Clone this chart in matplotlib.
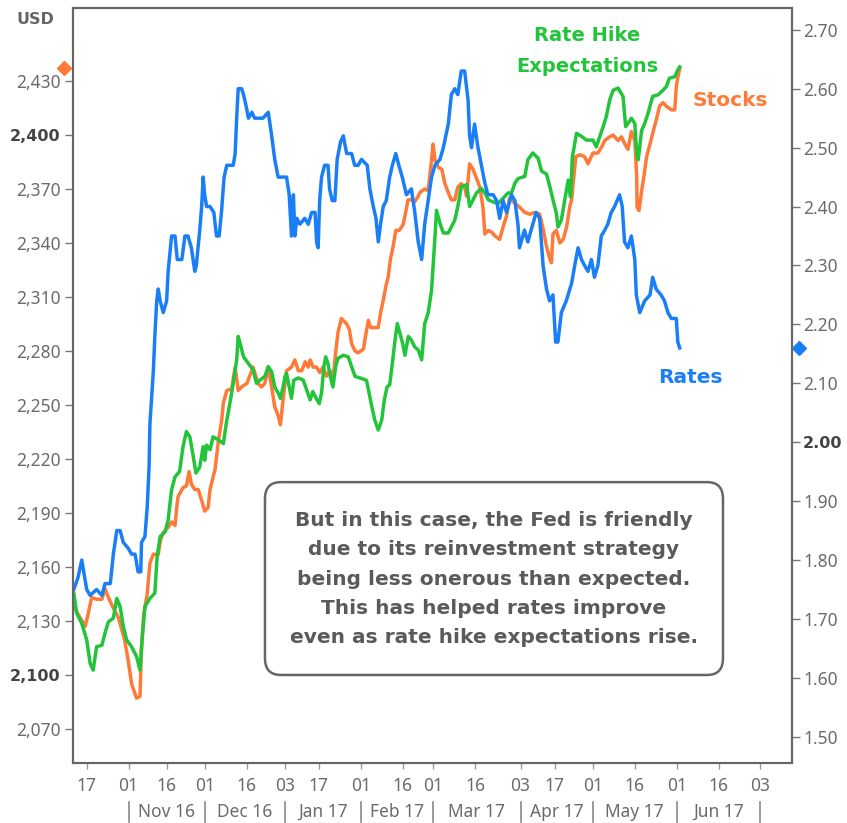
import numpy as np
import matplotlib
matplotlib.use("Agg")
import matplotlib.pyplot as plt
import matplotlib.ticker as mticker
import matplotlib.transforms as mtrans
from matplotlib.patches import FancyBboxPatch

# x = trading day index (bond calendar), 0 = 17 Oct 2016
rates_day = [-3.4, -2.3, -1.3, 0, 0.9, 2.6, 4.0, 4.8, 6.2, 7.0, 7.9, 8.8, 9.6, 10.9, 11.8, 12.7, 13.5, 14.2,
             14.4, 15.3, 15.9, 16.4, 16.6, 17.1, 17.5, 17.9, 18.4, 18.8, 19.3, 20.1, 21.0, 21.4, 22.3, 23.2,
             23.8, 25.0, 25.8, 26.6, 27.5, 28.4, 28.8, 29.7, 30.2, 30.6, 31.0, 31.5, 32.4, 33.4, 34.1, 34.8,
             35.4, 36.1, 36.8, 37.6, 38.5, 39.0, 39.4, 39.8, 40.7, 41.2, 41.9, 42.5, 43.4, 44.1, 45.0, 46.3,
             47.7, 48.6, 49.4, 50.3, 51.6, 52.5, 53.2, 53.8, 54.3, 54.7, 55.2, 56.0, 57.3, 58.2, 59.1, 60.0,
             60.4, 60.8, 61.2, 61.7, 62.5, 63.4, 63.8, 64.5, 65.2, 65.8, 66.7, 67.4, 68.3, 69.6, 70.4, 71.3,
             72.2, 73.7, 74.4, 75.3, 76.0, 76.6, 77.2, 77.9, 78.7, 79.6, 80.3, 81.2, 82.0, 82.9, 84.0, 85.3,
             86.2, 87.1, 88.0, 88.8, 89.7, 90.6, 91.5, 92.8, 93.7, 95.0, 95.8, 96.7, 97.5, 98.4, 99.3, 100.2,
             100.6, 101.1, 101.9, 102.8, 103.7, 104.6, 105.4, 106.8, 107.7, 108.5, 109.4, 110.3, 111.6, 112.5,
             113.3, 113.7, 115.0, 115.9, 117.2, 118.1, 119.0, 119.9, 120.8, 121.6, 122.5, 123.2, 123.8, 124.7,
             126.0, 127.4, 128.5, 129.1, 130.0, 130.8, 131.7, 132.6, 133.4, 134.3, 135.2, 136.1, 136.9, 137.8,
             138.7, 140.0, 140.7, 141.3, 142.2, 143.1, 144.0, 144.4, 145.3, 146.6, 148.0, 148.7, 149.6, 150.9,
             151.8, 152.7, 153.6, 154.9, 155.3, 155.8]
rates_val = [1.75, 1.77, 1.80, 1.75, 1.74, 1.75, 1.74, 1.76, 1.76, 1.81, 1.85, 1.85, 1.83, 1.82, 1.81, 1.81, 1.78, 1.78,
             1.83, 1.84, 1.89, 1.96, 2.03, 2.08, 2.12, 2.18, 2.24, 2.26, 2.24, 2.22, 2.24, 2.29, 2.35, 2.35,
             2.31, 2.31, 2.35, 2.35, 2.33, 2.29, 2.30, 2.36, 2.40, 2.45, 2.42, 2.40, 2.40, 2.39, 2.35, 2.35,
             2.39, 2.45, 2.47, 2.47, 2.47, 2.49, 2.55, 2.60, 2.60, 2.59, 2.57, 2.55, 2.56, 2.55, 2.55, 2.55,
             2.56, 2.52, 2.48, 2.45, 2.45, 2.45, 2.42, 2.35, 2.42, 2.35, 2.38, 2.37, 2.38, 2.37, 2.39, 2.39,
             2.34, 2.33, 2.41, 2.45, 2.47, 2.47, 2.43, 2.41, 2.41, 2.48, 2.51, 2.52, 2.49, 2.49, 2.47, 2.47,
             2.48, 2.47, 2.43, 2.40, 2.38, 2.34, 2.37, 2.40, 2.41, 2.45, 2.47, 2.49, 2.47, 2.45, 2.42, 2.43,
             2.39, 2.34, 2.31, 2.37, 2.41, 2.45, 2.47, 2.48, 2.50, 2.54, 2.59, 2.60, 2.59, 2.63, 2.63, 2.58,
             2.52, 2.50, 2.54, 2.50, 2.47, 2.44, 2.42, 2.42, 2.41, 2.38, 2.41, 2.39, 2.42, 2.41,
             2.37, 2.33, 2.36, 2.34, 2.37, 2.39, 2.38, 2.30, 2.26, 2.24, 2.25, 2.17, 2.17, 2.22,
             2.24, 2.27, 2.31, 2.33, 2.31, 2.30, 2.29, 2.31, 2.28, 2.30, 2.35, 2.36, 2.37, 2.39,
             2.40, 2.42, 2.40, 2.34, 2.33, 2.35, 2.31, 2.25, 2.22, 2.24, 2.25, 2.28, 2.26, 2.25,
             2.24, 2.22, 2.21, 2.21, 2.17, 2.16]

stocks_day = [-3.4, -1.8, -0.4, 0.4, 1.3, 2.6, 4.0, 4.8, 5.7, 7.0, 8.3, 9.1, 10.0, 10.9, 11.8, 13.1, 14.0, 14.4,
              15.0, 15.9, 16.6, 17.5, 18.8, 19.4, 20.1, 21.4, 22.3, 23.2, 23.6, 24.0, 25.3, 26.2, 26.9, 27.5,
              28.4, 29.3, 30.2, 31.0, 31.9, 32.4, 33.7, 34.6, 35.5, 35.9, 36.8, 38.1, 39.0, 39.8, 40.7, 42.1,
              43.7, 45.0, 45.9, 46.8, 47.7, 48.6, 49.4, 50.3, 50.9, 51.6, 52.5, 53.8, 54.7, 55.6, 56.5, 57.4,
              58.2, 58.7, 59.5, 60.4, 61.2, 62.1, 63.0, 63.9, 64.7, 65.4, 66.0, 66.9, 68.3, 69.0, 69.6, 70.5,
              71.3, 72.7, 73.4, 74.0, 74.6, 75.5, 76.6, 77.2, 77.9, 78.6, 79.2, 79.8, 80.5, 81.2, 82.1, 83.1,
              83.8, 84.4, 85.3, 86.2, 87.1, 87.5, 88.8, 89.7, 90.6, 91.0, 91.5, 92.4, 93.3, 94.1, 95.0, 95.8,
              96.7, 97.5, 98.4, 99.3, 99.8, 100.6, 101.5, 102.4, 103.3, 104.1, 104.6, 105.5, 106.4, 107.2,
              108.5, 109.4, 110.3, 111.1, 112.5, 113.7, 115.1, 116.4, 117.7, 119.0, 119.9, 120.8, 121.7, 122.1,
              122.5, 123.4, 124.3, 125.2, 126.1, 126.9, 127.4, 127.8, 128.5, 129.6, 130.8, 131.7, 133.0, 134.3,
              135.2, 136.1, 137.4, 138.3, 139.6, 140.5, 141.4, 142.2, 143.1, 144.0, 144.5, 144.6, 145.1, 145.8,
              146.4, 147.1, 148.0, 148.7, 149.6, 150.5, 151.4, 152.3, 153.6, 154.5, 154.9, 155.3, 155.8]
stocks_val = [2138, 2132, 2127, 2134, 2143, 2142, 2142, 2148, 2143, 2137, 2132, 2126, 2119, 2108, 2095, 2087, 2088, 2116,
              2134, 2145, 2162, 2167, 2167, 2175, 2179, 2182, 2185, 2183, 2192, 2199, 2204, 2205, 2213, 2206,
              2203, 2203, 2197, 2191, 2193, 2203, 2214, 2230, 2242, 2251, 2258, 2259, 2271, 2258, 2260, 2262,
              2271, 2262, 2260, 2262, 2271, 2260, 2249, 2244, 2239, 2253, 2269, 2271, 2275, 2269, 2269, 2274,
              2271, 2275, 2271, 2271, 2268, 2271, 2266, 2269, 2264, 2279, 2290, 2298, 2295, 2292, 2284, 2280,
              2279, 2281, 2290, 2297, 2293, 2293, 2293, 2301, 2308, 2316, 2321, 2331, 2338, 2347, 2347, 2350,
              2357, 2364, 2364, 2363, 2366, 2368, 2370, 2369, 2386, 2395, 2386, 2382, 2381, 2373, 2368, 2364,
              2364, 2371, 2373, 2371, 2366, 2384, 2381, 2376, 2371, 2360, 2345, 2347, 2346, 2344,
              2342, 2349, 2355, 2365, 2362, 2360, 2357, 2356, 2357, 2356, 2348, 2338, 2331, 2329,
              2345, 2347, 2340, 2342, 2349, 2360, 2364, 2373, 2388, 2389, 2388, 2384, 2390, 2390,
              2393, 2397, 2399, 2400, 2397, 2399, 2395, 2392, 2402, 2397, 2377, 2360, 2358, 2369,
              2377, 2388, 2395, 2401, 2408, 2416, 2418, 2416, 2414, 2414, 2427, 2432, 2437]

# rate hike expectations, unscaled index drawn on its own hidden axis (0-100)
hike_day = [-3.4, -2.6, -1.3, 0, 0.9, 1.7, 2.6, 4.0, 4.8, 5.7, 7.0, 7.9, 8.8, 9.6, 10.5, 11.8, 13.1, 14.0, 14.7,
            15.3, 16.6, 17.9, 18.5, 19.3, 20.6, 21.4, 22.3, 23.2, 24.4, 25.3, 26.2, 27.1, 28.0, 28.7, 29.7,
            30.6, 31.0, 31.5, 32.4, 33.2, 34.6, 35.9, 36.8, 37.6, 38.5, 39.4, 39.8, 40.3, 41.2, 42.5, 43.7,
            44.6, 45.5, 46.8, 47.7, 48.6, 49.4, 50.3, 50.9, 51.6, 52.1, 52.5, 53.2, 53.8, 54.4, 55.6, 56.9,
            57.8, 58.7, 59.4, 60.3, 61.1, 61.7, 62.3, 62.8, 63.4, 64.0, 64.7, 65.4, 66.0, 67.4, 68.7, 69.6,
            70.5, 71.8, 73.5, 74.2, 74.9, 75.7, 76.6, 77.5, 78.2, 78.9, 79.6, 80.3, 81.0, 81.6, 82.3, 83.0,
            83.6, 84.5, 85.3, 86.2, 87.1, 88.0, 88.8, 89.7, 90.6, 91.0, 91.5, 91.9, 92.8, 93.7, 95.0, 95.8,
            96.7, 97.5, 98.4, 99.8, 100.6, 101.5, 102.4, 103.7, 104.6, 105.5, 106.8, 108.1, 109.4, 110.7,
            111.6, 112.5, 113.3, 115.1, 115.9, 117.2, 118.6, 119.5, 120.8, 121.7, 122.5, 123.4, 123.8, 124.7,
            125.6, 126.5, 127.1, 127.6, 128.7, 130.0, 131.3, 133.0, 133.9, 134.8, 135.7, 136.5, 137.4, 138.3,
            139.6, 140.9, 141.6, 142.2, 143.1, 144.0, 144.5, 144.9, 145.3, 145.8, 146.6, 147.5, 148.7, 150.1,
            151.4, 152.3, 153.1, 154.5, 155.3, 155.8]
hike_val = [22.5, 19.8, 18.5, 16.3, 13.2, 12.3, 15.4, 15.6, 17.2, 18.7, 19.2, 21.8, 20.7, 18.1, 16.3, 15.4, 14.1, 12.3, 17.2,
            20.7, 21.8, 22.5, 27.3, 30.0, 30.6, 32.2, 36.2, 37.9, 38.6, 41.9, 43.9, 43.2, 40.6, 38.4, 39.2,
            41.9, 40.1, 42.1, 41.5, 43.2, 42.8, 42.3, 45.4, 47.6, 50.3, 53.4, 56.5, 55.6, 53.8, 52.9, 52.1,
            50.3, 50.7, 51.2, 52.5, 51.8, 49.8, 49.0, 48.3, 49.8, 51.2, 51.6, 49.8, 48.3, 50.7, 51.0, 50.7,
            49.4, 48.1, 49.2, 48.3, 47.6, 49.0, 52.5, 53.8, 52.9, 51.2, 49.8, 52.5, 53.6, 54.0, 53.8, 52.5,
            51.2, 51.0, 50.7, 49.0, 47.2, 45.4, 44.1, 45.4, 48.1, 49.8, 50.1, 52.9, 56.0, 58.2, 56.9, 55.6,
            54.0, 56.5, 56.0, 55.1, 54.7, 53.4, 58.2, 59.6, 62.6, 65.7, 69.7, 73.2, 71.5, 70.2, 70.2, 71.0,
            71.9, 73.7, 76.3, 76.6, 73.7, 74.6, 75.5, 76.1, 75.5, 74.6, 74.3, 74.1, 74.8, 75.5,
            75.5, 76.8, 77.4, 77.7, 79.9, 80.8, 80.1, 78.4, 78.0, 76.3, 74.6, 72.8, 71.0, 71.9,
            74.6, 77.2, 75.0, 80.3, 83.4, 83.0, 82.5, 82.5, 81.6, 83.0, 84.3, 85.6, 87.8, 89.1,
            89.4, 88.3, 84.3, 84.7, 85.4, 84.7, 80.8, 79.9, 81.6, 83.8, 84.7, 86.1, 88.3, 88.5,
            89.1, 89.6, 90.7, 90.9, 91.8, 92.2]

tick_days = [0, 11, 21, 31, 42, 52, 61, 72, 83, 91, 102, 114, 123, 133, 144, 155, 166, 177]
tick_labels = ["17", "01", "16", "01", "16", "03", "17", "01", "16", "01", "16", "03",
               "17", "01", "16", "01", "16", "03"]
month_edges = [11, 31, 52, 72, 91, 114, 133, 155, 177]
month_names = ["Nov 16", "Dec 16", "Jan 17", "Feb 17", "Mar 17", "Apr 17", "May 17", "Jun 17"]

usd_ticks = list(range(2070, 2431, 30))
rate_ticks = [1.5, 1.6, 1.7, 1.8, 1.9, 2.0, 2.1, 2.2, 2.3, 2.4, 2.5, 2.6, 2.7]

BLUE = "#1a7ff7"
ORANGE = "#ff7a38"
GREEN = "#22c43a"
GREY = "#6b6b6b"
BOLD_FONT = "DejaVu Sans"   # has a real bold face

plt.rcParams["font.family"] = ["Noto Sans", "DejaVu Sans"]

fig = plt.figure(figsize=(8.47, 8.23), dpi=100)
ax = fig.add_axes([73 / 847, 60 / 823, 719 / 847, 755 / 823])

ax.plot(stocks_day, stocks_val, color=ORANGE, lw=2.5)
ax.set_xlim(-3.6, 185.3)
ax.set_ylim(2051, 2470.6)
ax.set_yticks(usd_ticks)
ax.yaxis.set_major_formatter(mticker.FuncFormatter(lambda v, p: f"{v:,.0f}"))
ax.set_xticks(tick_days, tick_labels)

ax_g = ax.twinx()
ax_g.plot(hike_day, hike_val, color=GREEN, lw=2.5)
ax_g.set_ylim(0, 100)
ax_g.axis("off")

ax_r = ax.twinx()
ax_r.plot(rates_day, rates_val, color=BLUE, lw=2.5)
ax_r.set_ylim(1.4555, 2.737)
ax_r.set_yticks(rate_ticks)
ax_r.yaxis.set_major_formatter(mticker.FuncFormatter(lambda v, p: f"{v:.2f}"))

for a in (ax, ax_r):
    for s in a.spines.values():
        s.set_color("#666666")
        s.set_linewidth(1.5)

ax.tick_params(axis="y", length=6, width=1, color="#777777", labelcolor=GREY, labelsize=12.5, pad=3)
ax.tick_params(axis="x", length=4, width=1, color="#999999", labelcolor=GREY, labelsize=12.5, pad=6)
ax_r.tick_params(axis="y", length=6, width=1, color="#777777", labelcolor=GREY, labelsize=12.5, pad=2)

for lab, v in zip(ax.get_yticklabels(), usd_ticks):
    if v in (2400, 2100):
        lab.set_fontfamily(BOLD_FONT)
        lab.set_fontsize(11.5)
        lab.set_fontweight("bold")
        lab.set_color("#444444")
for lab, v in zip(ax_r.get_yticklabels(), rate_ticks):
    if v == 2.0:
        lab.set_fontfamily(BOLD_FONT)
        lab.set_fontsize(11.5)
        lab.set_fontweight("bold")
        lab.set_color("#444444")

# month row under the day ticks
xtrans = ax.get_xaxis_transform()
for e in month_edges:
    ax.plot([e, e], [-0.052, -0.078], transform=xtrans, clip_on=False, color="#8a8a8a", lw=1.2)
for i, name in enumerate(month_names):
    xc = (month_edges[i] + month_edges[i + 1]) / 2
    ax.text(xc, -0.065, name, transform=xtrans, ha="center", va="center", fontsize=12.5, color=GREY)

# last-value markers on the axes
ax.plot([-0.0125], [stocks_val[-1]], marker="D", ms=7, color=ORANGE, clip_on=False,
        transform=mtrans.blended_transform_factory(ax.transAxes, ax.transData))
ax_r.plot([1.0097], [rates_val[-1]], marker="D", ms=7, color=BLUE, clip_on=False,
          transform=mtrans.blended_transform_factory(ax_r.transAxes, ax_r.transData))

fig.text(35 / 847, 1 - 19 / 823, "USD", ha="center", va="center", fontsize=11.5, fontweight="bold",
         color="#666666", family=BOLD_FONT)

ax_r.text(0.715, 0.943, "Rate Hike\nExpectations", transform=ax_r.transAxes, ha="center", va="center",
          fontsize=14, fontweight="bold", color=GREEN, linespacing=1.75, family=BOLD_FONT)
ax_r.text(0.914, 0.878, "Stocks", transform=ax_r.transAxes, ha="center", va="center",
          fontsize=14.5, fontweight="bold", color=ORANGE, family=BOLD_FONT)
ax_r.text(0.858, 0.511, "Rates", transform=ax_r.transAxes, ha="center", va="center",
          fontsize=14.5, fontweight="bold", color=BLUE, family=BOLD_FONT)

box = FancyBboxPatch((0.267, 0.1166), 0.637, 0.2554, boxstyle="round,pad=0,rounding_size=0.022",
                     transform=ax_r.transAxes, fc="white", ec="#666666", lw=1.8, zorder=5)
ax_r.add_patch(box)
ax_r.text(0.5855, 0.2437,
          "But in this case, the Fed is friendly\ndue to its reinvestment strategy\n"
          "being less onerous than expected.\nThis has helped rates improve\n"
          "even as rate hike expectations rise.",
          transform=ax_r.transAxes, ha="center", va="center", fontsize=14.5, fontweight="bold",
          color="#5a5a5a", linespacing=1.68, zorder=6, family=BOLD_FONT)

fig.savefig("out.png", dpi=100)
